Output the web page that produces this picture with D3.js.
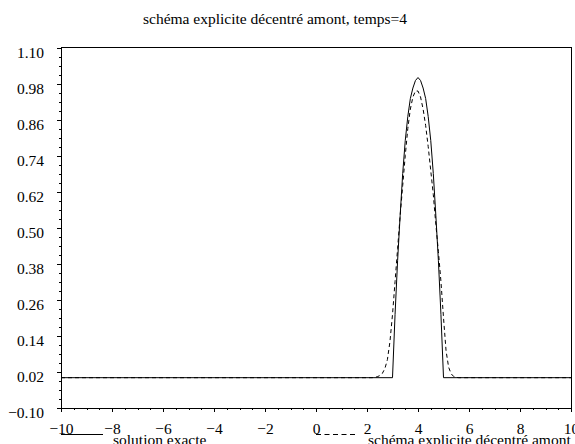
<!DOCTYPE html>
<html>
<head>
<meta charset="utf-8">
<script src="https://cdn.jsdelivr.net/npm/d3@7"></script>
<style>
  body { margin: 0; background: #fff; }
  text { font-family: "Liberation Serif", "Times New Roman", serif; font-size: 15.5px; fill: #000; }
  .axis path, .axis line { stroke: #000; stroke-width: 1; shape-rendering: crispEdges; }
</style>
</head>
<body>
<script>
// Data
var titleText = "schéma explicite décentré amont, temps=4";
var seriesNames = ["solution exacte", "schéma explicite décentré amont"];

var xTicks = [-10, -8, -6, -4, -2, 0, 2, 4, 6, 8, 10];
var xTickLabels = ["\u221210", "\u22128", "\u22126", "\u22124", "\u22122", "0", "2", "4", "6", "8", "10"];
var yTicks = [-0.10, 0.02, 0.14, 0.26, 0.38, 0.50, 0.62, 0.74, 0.86, 0.98, 1.10];
var yTickLabels = ["\u22120.10", "0.02", "0.14", "0.26", "0.38", "0.50", "0.62", "0.74", "0.86", "0.98", "1.10"];

// solution exacte
var exactX = [-10, 3.0, 3.1, 3.2, 3.3, 3.4, 3.5, 3.6, 3.7, 3.8, 3.9, 4.0,
              4.1, 4.2, 4.3, 4.4, 4.5, 4.6, 4.7, 4.8, 4.9, 5.0, 10];
var exactY = [0, 0, 0.21, 0.39, 0.54, 0.68, 0.79, 0.87, 0.93, 0.965, 0.99, 1.0,
              0.99, 0.965, 0.93, 0.87, 0.79, 0.68, 0.54, 0.39, 0.21, 0, 0];

// schéma explicite décentré amont
var schemeX = [-10, 2.2, 2.3, 2.4, 2.5, 2.6, 2.7, 2.8, 2.9, 3.0, 3.1, 3.2, 3.3, 3.4, 3.5,
               3.6, 3.7, 3.8, 3.9, 4.0, 4.1, 4.2, 4.3, 4.4, 4.5, 4.6, 4.7, 4.8, 4.9,
               5.0, 5.1, 5.2, 5.3, 5.4, 5.5, 5.6, 10];
var schemeY = [0, 0, 0.001, 0.003, 0.007, 0.014, 0.03, 0.06, 0.12, 0.21, 0.32, 0.43, 0.54, 0.64, 0.74,
               0.83, 0.895, 0.935, 0.955, 0.955, 0.935, 0.895, 0.84, 0.77, 0.69, 0.61, 0.51, 0.42, 0.32,
               0.2, 0.09, 0.035, 0.013, 0.004, 0.001, 0, 0];

var W = 575, H = 444;
var plotLeft = 61, plotRight = 571, plotTop = 47.5, plotBottom = 407.7;

var svg = d3.select("body").append("svg")
    .attr("width", W)
    .attr("height", H);

var x = d3.scaleLinear().domain([-10, 10]).range([plotLeft, plotRight]);
var y = d3.scaleLinear().domain([-0.10, 1.10]).range([plotBottom, plotTop]);

// frame (top and right sides)
svg.append("path")
    .attr("d", "M" + plotLeft + "," + plotTop + "H" + plotRight + "V" + plotBottom)
    .attr("fill", "none")
    .attr("stroke", "#000")
    .attr("shape-rendering", "crispEdges");

// minor ticks
svg.append("g")
    .attr("class", "axis")
    .attr("transform", "translate(0," + plotBottom + ")")
    .call(d3.axisBottom(x).tickValues(d3.range(-10, 10.01, 0.5)).tickSize(2.5).tickFormat(""))
    .call(function(g) { g.select(".domain").remove(); });

svg.append("g")
    .attr("class", "axis")
    .attr("transform", "translate(" + plotLeft + ",0)")
    .call(d3.axisLeft(y).tickValues(d3.range(0, 41).map(function(i) { return -0.10 + i * 0.03; })).tickSize(2.5).tickFormat(""))
    .call(function(g) { g.select(".domain").remove(); });

// major axes
var xAxis = svg.append("g")
    .attr("class", "axis")
    .attr("transform", "translate(0," + plotBottom + ")")
    .call(d3.axisBottom(x).tickValues(xTicks).tickSize(4.5).tickSizeOuter(0)
      .tickFormat(function(d, i) { return xTickLabels[i]; }));
xAxis.selectAll("text").attr("y", 15).attr("dy", "0.71em");

var yAxis = svg.append("g")
    .attr("class", "axis")
    .attr("transform", "translate(" + plotLeft + ",0)")
    .call(d3.axisLeft(y).tickValues(yTicks).tickSize(4.5).tickSizeOuter(0)
      .tickFormat(function(d, i) { return yTickLabels[i]; }));
yAxis.selectAll("text").attr("x", -17).attr("dy", 10);

svg.selectAll(".axis").attr("font-family", null).attr("font-size", null);

// curves
var line = d3.line()
    .x(function(d) { return x(d[0]); })
    .y(function(d) { return y(d[1]); });

svg.append("path")
    .datum(exactX.map(function(v, i) { return [v, exactY[i]]; }))
    .attr("fill", "none")
    .attr("stroke", "#000")
    .attr("stroke-width", 1)
    .attr("d", line);

svg.append("path")
    .datum(schemeX.map(function(v, i) { return [v, schemeY[i]]; }))
    .attr("fill", "none")
    .attr("stroke", "#000")
    .attr("stroke-width", 1)
    .attr("stroke-dasharray", "4,3")
    .attr("d", line);

// title
svg.append("text")
    .attr("x", 275)
    .attr("y", 23.5)
    .attr("text-anchor", "middle")
    .text(titleText);

// legend
var legendX = [plotLeft, (plotLeft + plotRight) / 2];
var legend = svg.selectAll(".legend").data(seriesNames).enter()
  .append("g")
    .attr("class", "legend")
    .attr("transform", function(d, i) { return "translate(" + legendX[i] + ",434.5)"; });

legend.append("line")
    .attr("x1", 0).attr("x2", 42)
    .attr("y1", 0).attr("y2", 0)
    .attr("stroke", "#000")
    .attr("stroke-dasharray", function(d, i) { return i ? "5,3.5" : null; });

legend.append("text")
    .attr("x", 52)
    .attr("y", 10.5)
    .text(function(d) { return d; });
</script>
</body>
</html>
